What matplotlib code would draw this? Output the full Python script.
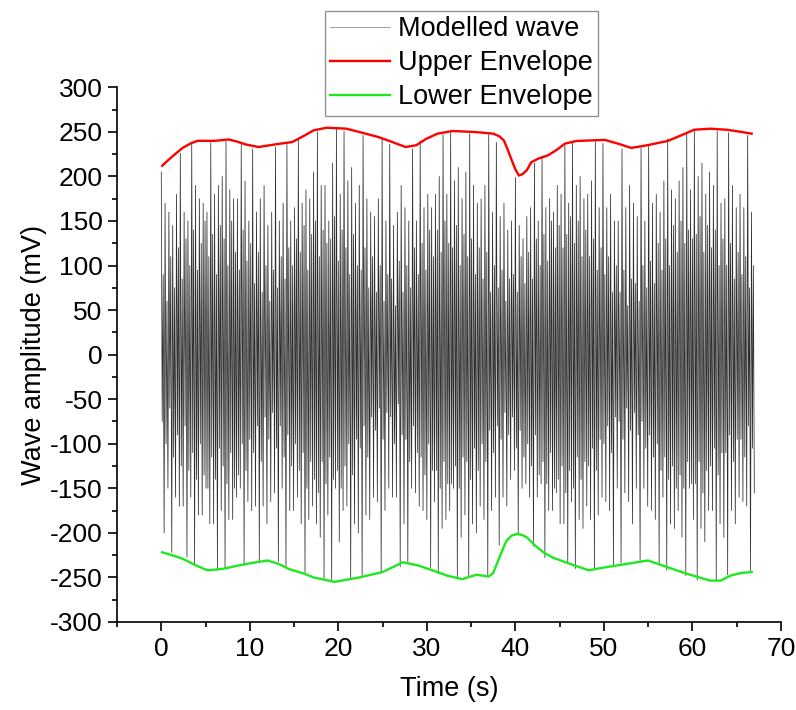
import numpy as np
import matplotlib
matplotlib.use('Agg')
import matplotlib.pyplot as plt
from matplotlib.ticker import MultipleLocator

plt.rcParams['font.family'] = ['Liberation Sans', 'DejaVu Sans']
plt.rcParams['axes.unicode_minus'] = False

# modelled wave, one cycle = peak, inner low, inner high, trough
peaks = [
    205, 170, 160, 145,
    180, 226, 160, 150,
    236, 190, 175, 170,
    160, 238, 180, 190,
    200, 240, 185, 175,
    175, 236, 195, 150,
    231, 160, 175, 190,
    145, 160, 233, 150,
    170, 236, 150, 165,
    243, 170, 185, 175,
    205, 250, 190, 190,
    150, 215, 253, 180,
    251, 195, 210, 170,
    190, 246, 175, 160,
    155, 175, 242, 150,
    236, 145, 160, 190,
    165, 150, 231, 150,
    240, 165, 180, 165,
    180, 200, 247, 180,
    250, 195, 210, 175,
    205, 248, 190, 170,
    175, 190, 247, 160,
    238, 155, 170, 140,
    150, 199, 145, 130,
    155, 165, 215, 150,
    223, 165, 175, 160,
    190, 180, 235, 170,
    238, 190, 200, 175,
    180, 195, 239, 165,
    237, 165, 180, 150,
    150, 231, 165, 190,
    170, 155, 232, 150,
    236, 170, 180, 160,
    195, 242, 185, 175,
    195, 210, 249, 185,
    251, 200, 215, 180,
    205, 190, 251, 170,
    175, 249, 190, 165,
    180, 165, 246, 160,
]
inner_lo = [
    -75, -100, -60, -115,
    -90, -125, -80, -130,
    -110, -140, -100, -135,
    -150, -115, -140, -105,
    -125, -145, -110, -150,
    -135, -100, -130, -95,
    -110, -80, -120, -70,
    -95, -65, -105, -80,
    -115, -90, -125, -100,
    -130, -110, -150, -120,
    -140, -155, -120, -145,
    -115, -140, -130, -150,
    -125, -100, -135, -95,
    -105, -80, -115, -70,
    -85, -60, -95, -65,
    -70, -100, -55, -90,
    -95, -120, -80, -110,
    -115, -135, -100, -130,
    -130, -150, -120, -145,
    -145, -125, -150, -115,
    -120, -140, -105, -130,
    -100, -120, -85, -110,
    -80, -95, -65, -90,
    -70, -105, -85, -115,
    -100, -125, -90, -135,
    -120, -145, -110, -150,
    -140, -125, -155, -130,
    -150, -115, -140, -120,
    -125, -105, -130, -95,
    -100, -80, -110, -70,
    -75, -95, -60, -85,
    -65, -90, -75, -105,
    -90, -115, -100, -130,
    -115, -140, -125, -150,
    -135, -150, -120, -145,
    -145, -120, -155, -130,
    -125, -105, -135, -110,
    -110, -90, -120, -95,
    -95, -115, -80, -105,
]
inner_hi = [
    90, 60, 110, 75,
    120, 85, 130, 100,
    140, 95, 125, 150,
    110, 135, 90, 145,
    130, 100, 150, 115,
    95, 140, 105, 125,
    80, 115, 70, 100,
    60, 95, 75, 110,
    85, 120, 100, 130,
    115, 145, 95, 135,
    150, 110, 140, 125,
    130, 155, 105, 140,
    120, 90, 135, 100,
    95, 120, 75, 110,
    70, 100, 60, 90,
    85, 55, 105, 70,
    100, 75, 120, 90,
    125, 95, 140, 110,
    140, 115, 150, 125,
    120, 145, 100, 135,
    110, 130, 90, 120,
    85, 115, 70, 100,
    75, 95, 60, 85,
    90, 70, 110, 80,
    115, 85, 130, 100,
    135, 105, 150, 120,
    145, 120, 135, 155,
    125, 150, 110, 140,
    110, 130, 95, 120,
    90, 110, 70, 100,
    70, 95, 55, 85,
    80, 60, 100, 75,
    105, 80, 125, 95,
    130, 100, 145, 115,
    150, 125, 140, 130,
    135, 155, 115, 145,
    120, 140, 100, 130,
    100, 125, 85, 115,
    90, 110, 75, 100,
]
troughs = [
    -200, -150, -222, -160,
    -170, -170, -227, -160,
    -236, -180, -180, -150,
    -190, -190, -242, -175,
    -240, -185, -185, -160,
    -150, -236, -165, -175,
    -170, -232, -170, -190,
    -165, -155, -232, -150,
    -239, -175, -175, -160,
    -190, -245, -185, -170,
    -190, -205, -251, -180,
    -255, -150, -210, -175,
    -170, -252, -190, -200,
    -249, -180, -185, -160,
    -165, -245, -175, -150,
    -160, -160, -238, -190,
    -234, -150, -155, -170,
    -175, -185, -239, -165,
    -246, -195, -185, -175,
    -150, -251, -205, -180,
    -248, -190, -200, -170,
    -185, -249, -175, -160,
    -214, -160, -170, -140,
    -130, -201, -150, -145,
    -160, -215, -160, -145,
    -228, -175, -175, -155,
    -190, -190, -234, -165,
    -240, -185, -195, -170,
    -185, -241, -180, -160,
    -165, -175, -237, -150,
    -234, -155, -165, -190,
    -150, -231, -150, -170,
    -175, -185, -234, -160,
    -242, -190, -195, -175,
    -205, -248, -150, -185,
    -253, -195, -210, -175,
    -175, -254, -190, -205,
    -247, -175, -190, -160,
    -165, -170, -244, -155,
]
t_end = 67.0

# envelopes
upper_t = [0.1, 1.2, 2.4, 3.3, 4.1, 6.1, 7.6, 8.6, 9.5, 11.0, 12.9, 14.8, 16.2,
           17.2, 18.7, 20.9, 22.4, 24.6, 26.1, 27.6, 28.8, 29.9, 31.2, 32.9,
           35.5, 37.5, 38.2, 38.7, 39.1, 39.6, 40.0, 40.4, 40.8, 41.3, 41.8,
           42.6, 43.7, 44.7, 45.6, 46.9, 50.1, 51.6, 53.1, 54.9, 57.2, 58.7,
           60.2, 62.0, 63.9, 65.5, 66.7]
upper_v = [212, 222, 232, 237, 240, 240, 241.5, 239, 236, 233, 236, 238.6, 246,
           251.7, 254.7, 253.6, 249.8, 244, 238.6, 233, 235, 242, 248, 251,
           249.8, 248, 245, 240.5, 231, 218, 208, 201, 202.5, 207, 216,
           220, 223.7, 230, 236.8, 239.8, 241, 236.8, 232, 235, 239.8, 246,
           252.4, 253.6, 252.4, 250, 248]
lower_t = [0.1, 1.2, 2.4, 3.8, 5.2, 6.9, 9.5, 12.0, 13.3, 14.4, 16.2, 17.2,
           19.6, 22.4, 25.0, 27.3, 29.1, 31.2, 32.3, 34.0, 35.6, 37.0, 37.5,
           37.8, 38.3, 39.0, 39.6, 40.2, 40.8, 41.3, 42.2, 43.2, 44.3, 45.4,
           46.8, 48.3, 50.2, 52.5, 55.0, 57.2, 59.4, 62.0, 63.2, 64.3, 65.5, 66.7]
lower_v = [-221.8, -225, -229, -236, -242, -240.5, -235, -231, -235, -240.5,
           -246, -250, -255, -250, -244, -233, -236.8, -244, -248, -252, -247,
           -249, -245, -237.5, -225, -208.8, -203, -201.2, -202.5, -205, -214,
           -222, -228, -232, -237, -242, -238.6, -235, -231, -238.6, -246,
           -253.6, -253.6, -248, -245, -244]

wave = np.column_stack([peaks, inner_lo, inner_hi, troughs]).ravel()
time = np.linspace(0, t_end, len(wave))

fig = plt.figure(figsize=(7.96, 7.10), dpi=100)
ax = fig.add_axes([0.147, 0.124, 0.834, 0.753])

ax.plot(time, wave, color='#2e2e2e', lw=0.55, label='Modelled wave')
ax.plot(upper_t, upper_v, color='#ff0000', lw=1.7, label='Upper Envelope')
ax.plot(lower_t, lower_v, color='#1fe81f', lw=1.7, label='Lower Envelope')

ax.set_xlim(-5, 70)
ax.set_ylim(-300, 300)
ax.xaxis.set_major_locator(MultipleLocator(10))
ax.xaxis.set_minor_locator(MultipleLocator(5))
ax.yaxis.set_major_locator(MultipleLocator(50))
ax.yaxis.set_minor_locator(MultipleLocator(25))
ax.tick_params(which='major', direction='out', length=6.5, width=1.2,
               labelsize=19, pad=4)
ax.tick_params(which='minor', direction='out', length=3.5, width=1.2)
for s in ['top', 'right']:
    ax.spines[s].set_visible(False)
for s in ['left', 'bottom']:
    ax.spines[s].set_linewidth(1.2)

ax.set_xlabel('Time (s)', fontsize=19.5, labelpad=11)
ax.set_ylabel('Wave amplitude (mV)', fontsize=19.5, labelpad=2)

leg = ax.legend(loc='upper left', bbox_to_anchor=(0.408, 0.985),
                bbox_transform=fig.transFigure, fontsize=19.5, frameon=True,
                fancybox=False, borderaxespad=0, borderpad=0.2,
                labelspacing=0.3, handlelength=2.2, handletextpad=0.3)
leg.get_frame().set_edgecolor('#777777')
leg.get_frame().set_linewidth(1.0)
leg.get_lines()[0].set_color('#888888')

fig.savefig('out.png', dpi=100)
